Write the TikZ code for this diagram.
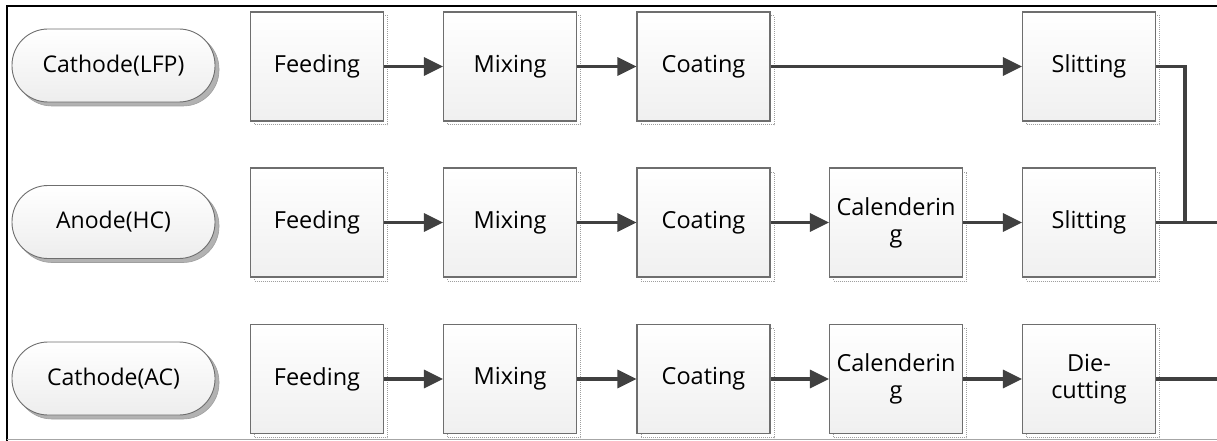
\documentclass[tikz,border=0pt]{standalone}
\usepackage{fontspec}
\setmainfont{Open Sans}
\usetikzlibrary{shadows,arrows.meta}

\definecolor{linkgray}{HTML}{404040}
\definecolor{edgegray}{HTML}{6E6E6E}

\tikzset{
  stepbox/.style={
    rectangle, draw=edgegray, line width=1.1pt,
    shading=axis, top color=white, bottom color=gray!12,
    minimum width=133pt, minimum height=109pt, inner sep=0pt,
    align=center, font=\fontsize{23.5}{27}\selectfont,
    general shadow={shadow xshift=4pt, shadow yshift=-4pt,
      fill=white, draw=gray!75, densely dotted, line width=1pt}
  },
  source/.style={
    rectangle, rounded corners=36pt, draw=edgegray, line width=0.9pt,
    shading=axis, top color=white, bottom color=gray!14,
    minimum width=203pt, minimum height=73pt, inner sep=0pt,
    font=\fontsize{23}{27}\selectfont,
    general shadow={shadow xshift=4pt, shadow yshift=-4pt,
      fill=gray!60, draw=gray!75, line width=0.6pt}
  },
  link/.style={draw=linkgray, line width=3.2pt},
  flow/.style={link, -{Triangle[length=19pt,width=18pt]}}
}

\begin{document}
\begin{tikzpicture}[x=1pt,y=-1pt]
\useasboundingbox (0,0) rectangle (1217,441);

% frame lines
\draw[black, line width=2.5pt] (7,441) -- (7,6.2) -- (1217,6.2);
\draw[gray!70, line width=1pt] (7,439.5) -- (1217,439.5);

% material sources
\node[source] (src1) at (113.5,65.5)  {Cathode(LFP)};
\node[source] (src2) at (113.5,222)   {Anode(HC)};
\node[source] (src3) at (113.5,378.5) {Cathode(AC)};

% row 1
\node[stepbox] (f1) at (317,66.5)   {Feeding};
\node[stepbox] (m1) at (510,66.5)   {Mixing};
\node[stepbox] (c1) at (703.5,66.5) {Coating};
\node[stepbox] (s1) at (1089,66.5)  {Slitting};

% row 2
\node[stepbox] (f2) at (317,222.5)   {Feeding};
\node[stepbox] (m2) at (510,222.5)   {Mixing};
\node[stepbox] (c2) at (703.5,222.5) {Coating};
\node[stepbox] (k2) at (896,222.5)   {Calenderin\\g};
\node[stepbox] (s2) at (1089,222.5)  {Slitting};

% row 3
\node[stepbox] (f3) at (317,379)   {Feeding};
\node[stepbox] (m3) at (510,379)   {Mixing};
\node[stepbox] (c3) at (703.5,379) {Coating};
\node[stepbox] (k3) at (896,379)   {Calenderin\\g};
\node[stepbox] (d3) at (1089,379)  {Die-\\cutting};

% process flow
\draw[flow] (f1) -- (m1);
\draw[flow] (m1) -- (c1);
\draw[flow] (c1) -- (s1);

\draw[flow] (f2) -- (m2);
\draw[flow] (m2) -- (c2);
\draw[flow] (c2) -- (k2);
\draw[flow] (k2) -- (s2);

\draw[flow] (f3) -- (m3);
\draw[flow] (m3) -- (c3);
\draw[flow] (c3) -- (k3);
\draw[flow] (k3) -- (d3);

% outputs
\coordinate (join) at (1185,222.5);
\coordinate (out2) at (1217,222.5);
\coordinate (out3) at (1217,379);
\draw[link] (s1.east) -| (join);
\draw[link] (s2.east) -- (out2);
\draw[link] (d3.east) -- (out3);
\end{tikzpicture}
\end{document}
